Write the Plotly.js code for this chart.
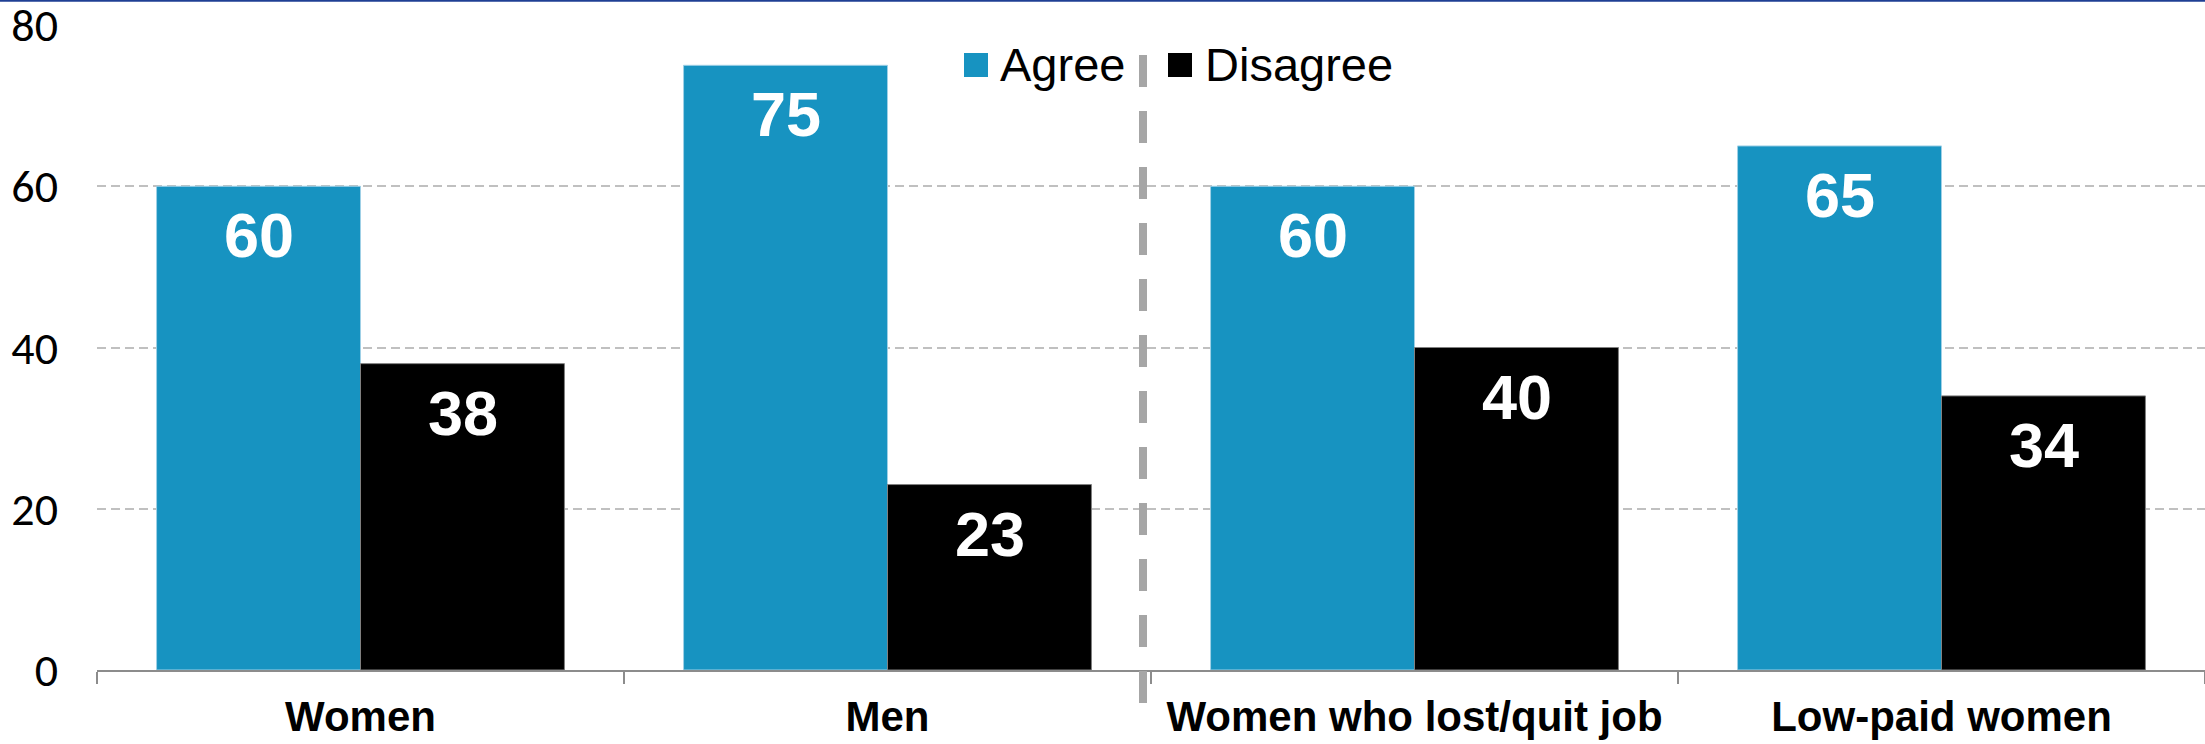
<!DOCTYPE html>
<html>
<head>
<meta charset="utf-8">
<script src="https://cdn.plot.ly/plotly-3.0.1.min.js"></script>
<style>
  html, body { margin: 0; padding: 0; background: #ffffff; }
  #chart { width: 2205px; height: 744px; }
</style>
</head>
<body>
<div id="chart"></div>
<script>
// ---- data ----
const categories = ["Women", "Men", "Women who lost/quit job", "Low-paid women"];
const seriesNames = ["Agree", "Disagree"];
const agreeValues = [60, 75, 60, 65];
const disagreeValues = [38, 23, 40, 34];
const yTickValues = [0, 20, 40, 60, 80];
const yTickLabels = ["0", "20", "40", "60", "80"];

// ---- styles ----
const BLUE = "#1793C1";
const BLACK = "#000000";
const W = 2205, H = 744;
const M = { l: 97, r: 0, t: 25, b: 74 };
const PW = W - M.l - M.r, PH = H - M.t - M.b;
const px2x = p => (p - M.l) / PW;
const px2y = p => (H - M.b - p) / PH;

const traces = [
  {
    type: "bar", name: seriesNames[0], x: categories, y: agreeValues,
    marker: { color: BLUE, line: { color: "#9fd0e6", width: 1 } },
    hoverinfo: "skip", showlegend: false
  },
  {
    type: "bar", name: seriesNames[1], x: categories, y: disagreeValues,
    marker: { color: BLACK, line: { color: "#808080", width: 1 } },
    hoverinfo: "skip", showlegend: false
  }
];

// value labels placed inside each bar, a fixed distance below its top
const annotations = [];
const seriesList = [agreeValues, disagreeValues];
seriesList.forEach((vals, si) => {
  vals.forEach((v, ci) => {
    annotations.push({
      x: categories[ci], y: v, xref: "x", yref: "y",
      xshift: si === 0 ? -102 : 102,
      yshift: -49,
      yanchor: "middle", xanchor: "center",
      text: String(v), showarrow: false,
      font: { family: "Liberation Sans, Arial, sans-serif", size: 63, color: "#ffffff", weight: 700 }
    });
  });
});

// manual legend (squares + text)
const legendItems = [
  { name: seriesNames[0], color: BLUE, sx: 964, tx: 998 },
  { name: seriesNames[1], color: BLACK, sx: 1168, tx: 1203 }
];
const shapes = [];
legendItems.forEach(it => {
  shapes.push({
    type: "rect", xref: "paper", yref: "paper",
    x0: px2x(it.sx), x1: px2x(it.sx + 24), y0: px2y(77), y1: px2y(53),
    fillcolor: it.color, line: { width: 0 }
  });
  annotations.push({
    xref: "paper", yref: "paper", x: px2x(it.tx), y: px2y(64),
    xanchor: "left", yanchor: "middle", showarrow: false, text: it.name,
    font: { family: "Liberation Sans, Arial, sans-serif", size: 47, color: "#000000" }
  });
});

// vertical dashed separator
shapes.push({
  type: "line", xref: "paper", yref: "paper",
  x0: px2x(1143), x1: px2x(1143), y0: px2y(55), y1: px2y(703),
  line: { color: "#a6a6a6", width: 8, dash: "32px,24px" }
});
// top thin blue rule
shapes.push({
  type: "line", xref: "paper", yref: "paper",
  x0: px2x(0), x1: 1, y0: px2y(0.8), y1: px2y(0.8),
  line: { color: "#1f3f94", width: 2 }
});

const layout = {
  width: W, height: H,
  margin: M,
  paper_bgcolor: "#ffffff", plot_bgcolor: "#ffffff",
  barmode: "group", bargap: 0.226, bargroupgap: 0,
  showlegend: false,
  xaxis: {
    type: "category",
    showline: true, linecolor: "#8c8c8c", linewidth: 2,
    ticks: "outside", tickson: "boundaries", ticklen: 12, tickwidth: 2, tickcolor: "#8c8c8c",
    ticklabelstandoff: 9,
    tickfont: { family: "Liberation Sans, Arial, sans-serif", size: 42, color: "#000000", weight: 700 },
    showgrid: false, zeroline: false, fixedrange: true
  },
  yaxis: {
    range: [0, 80],
    tickvals: yTickValues, ticktext: yTickLabels,
    ticks: "", ticklabelstandoff: 38, ticklabeloverflow: "allow",
    tickfont: { family: "Carlito, Lato, sans-serif", size: 46, color: "#000000" },
    showgrid: true, gridcolor: "#c0c0c0", gridwidth: 2, griddash: "9px,5px",
    zeroline: false, showline: false, fixedrange: true
  },
  annotations: annotations,
  shapes: shapes
};

Plotly.newPlot("chart", traces, layout, { displayModeBar: false, staticPlot: true });
</script>
</body>
</html>
